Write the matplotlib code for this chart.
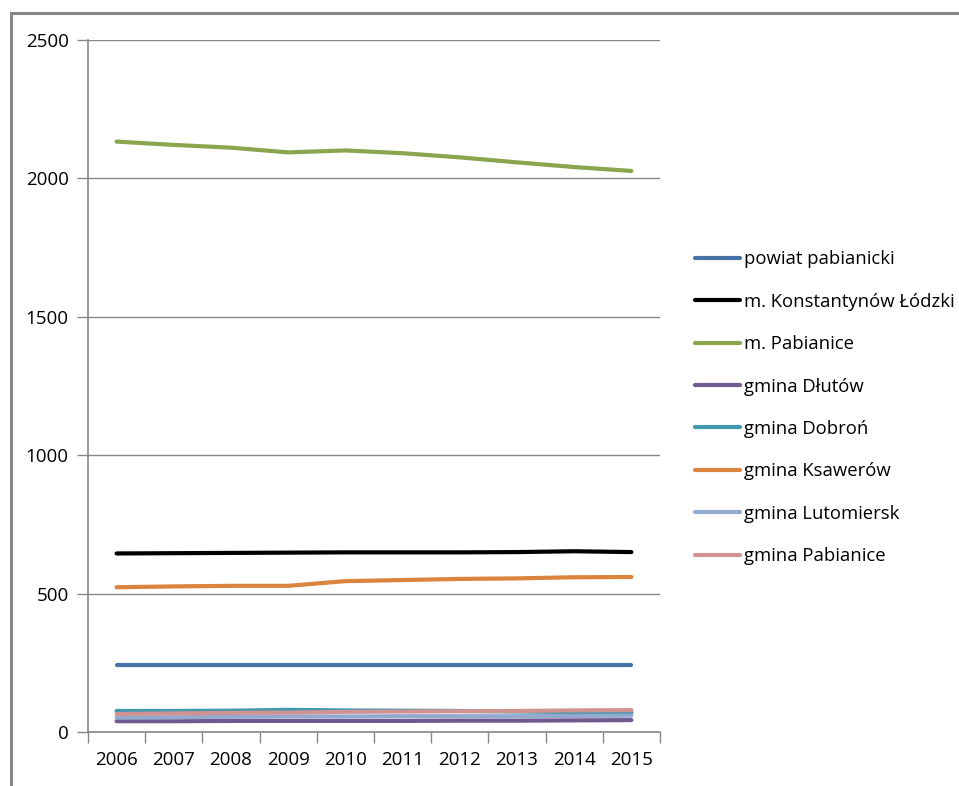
import matplotlib
matplotlib.use("Agg")
import matplotlib.pyplot as plt
from matplotlib.lines import Line2D

years = ["2006", "2007", "2008", "2009", "2010", "2011", "2012", "2013", "2014", "2015"]
powiat_pabianicki = [241, 241, 241, 241, 241, 241, 241, 241, 241, 241]
m_konstantynow = [645, 646, 647, 648, 649, 649, 649, 650, 653, 650]
m_pabianice = [2133, 2121, 2111, 2094, 2101, 2091, 2076, 2058, 2041, 2027]
gmina_dlutow = [39, 39, 40, 40, 40, 40, 41, 41, 42, 43]
gmina_dobron = [76, 76, 77, 80, 78, 77, 76, 74, 72, 70]
gmina_ksawerow = [523, 526, 528, 528, 545, 549, 553, 555, 559, 560]
gmina_lutomiersk = [52, 53, 55, 56, 56, 57, 57, 57, 58, 59]
gmina_pabianice = [65, 67, 69, 70, 73, 74, 75, 76, 78, 79]

series = [
    ("powiat pabianicki", powiat_pabianicki, "#4572A7"),
    ("m. Konstantynów Łódzki", m_konstantynow, "#000000"),
    ("m. Pabianice", m_pabianice, "#89A54E"),
    ("gmina Dłutów", gmina_dlutow, "#71588F"),
    ("gmina Dobroń", gmina_dobron, "#4198AF"),
    ("gmina Ksawerów", gmina_ksawerow, "#DB843D"),
    ("gmina Lutomiersk", gmina_lutomiersk, "#93A9CF"),
    ("gmina Pabianice", gmina_pabianice, "#D19392"),
]

plt.rcParams['font.family'] = ['Open Sans', 'DejaVu Sans']

fig = plt.figure(figsize=(9.59, 7.86), dpi=100)
fig.patch.set_facecolor("white")

# outer frame (chart area border)
fig.add_artist(Line2D([11 / 959, 11 / 959], [0, 1 - 13 / 786], transform=fig.transFigure,
                      color="#878787", lw=2.2))
fig.add_artist(Line2D([11 / 959, 1], [1 - 13 / 786, 1 - 13 / 786], transform=fig.transFigure,
                      color="#878787", lw=2.2))

ax = fig.add_axes([88 / 959, 1 - 732 / 786, (660 - 88) / 959, (732 - 40) / 786])
x = list(range(len(years)))
handles = []
for name, vals, col in series:
    h, = ax.plot(x, vals, color=col, lw=3, solid_capstyle="round", label=name)
    handles.append(h)

ax.set_xlim(-0.5, len(years) - 0.5)
ax.set_ylim(0, 2500)
ax.set_yticks([0, 500, 1000, 1500, 2000, 2500])
ax.set_xticks(x)
ax.set_xticklabels(years)
ax.set_xticks([i - 0.5 for i in range(len(years) + 1)], minor=True)
ax.tick_params(axis="x", which="major", length=0, labelsize=13.5, pad=14)
ax.tick_params(axis="x", which="minor", length=8, width=1, color="#878787", direction="out")
ax.tick_params(axis="y", length=8, width=1, color="#878787", labelsize=13.5, pad=6)
ax.grid(axis="y", color="#878787", lw=1)
ax.set_axisbelow(True)
for s in ["top", "right"]:
    ax.spines[s].set_visible(False)
for s in ["left", "bottom"]:
    ax.spines[s].set_color("#878787")
    ax.spines[s].set_linewidth(1.2)

leg = fig.legend(handles=handles, loc="upper left", bbox_to_anchor=(688 / 959, 1 - 243 / 786),
                 frameon=False, fontsize=13.3, handlelength=2.4, handletextpad=0.25,
                 labelspacing=1.32, borderaxespad=0)

fig.savefig("out.png", dpi=100)
